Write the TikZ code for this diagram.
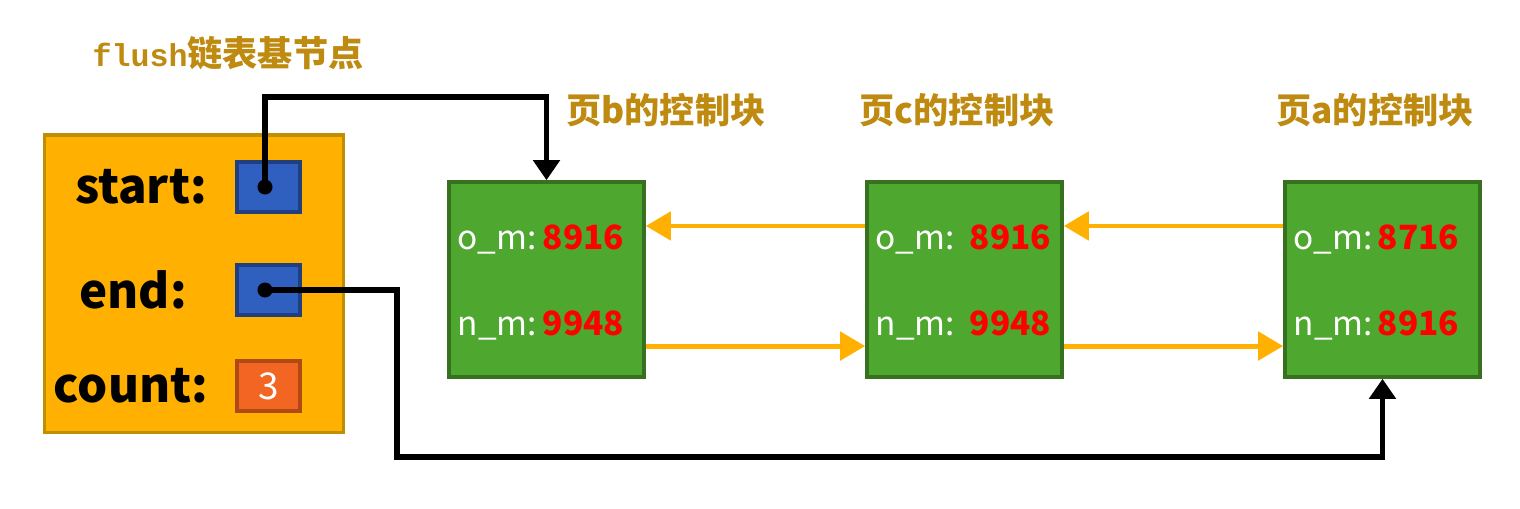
\documentclass[tikz,border=0pt]{standalone}
\usepackage{fontspec}
\usetikzlibrary{arrows.meta,positioning}
\newfontfamily\cjk{Noto Sans CJK SC}
\newfontfamily\monof{Liberation Mono}
\definecolor{porange}{HTML}{FFB000}
\definecolor{porangedark}{HTML}{BF8F00}
\definecolor{pblue}{HTML}{2F5FBF}
\definecolor{pbluedark}{HTML}{1F3F80}
\definecolor{pcount}{HTML}{F26522}
\definecolor{pcountdark}{HTML}{B04A14}
\definecolor{pgreen}{HTML}{4EA72E}
\definecolor{pgreendark}{HTML}{37701F}
\definecolor{pgold}{HTML}{BF8A10}
\definecolor{pred}{HTML}{FF0000}

\begin{document}
\begin{tikzpicture}[x=0.01cm, y=-0.01cm, every node/.style={font=\cjk},
    base/.style={draw=porangedark, fill=porange, line width=0.9pt,
      minimum width=2.98cm, minimum height=2.97cm},
    slot/.style={draw=pbluedark, fill=pblue, line width=0.9pt, inner sep=0pt,
      minimum width=0.63cm, minimum height=0.5cm},
    block/.style={draw=pgreendark, fill=pgreen, line width=1pt,
      minimum width=1.95cm, minimum height=1.95cm},
    key/.style={font=\cjk\bfseries\fontsize{13.5}{16}\selectfont},
    field/.style={anchor=base west, inner sep=0pt, text=white,
      font=\cjk\fontsize{9.5}{11}\selectfont},
    val/.style={anchor=base east, inner sep=0pt, text=pred,
      font=\cjk\bfseries\fontsize{9.5}{11}\selectfont},
    title/.style={text=pgold, font=\cjk\bfseries\fontsize{10}{12}\selectfont},
    ptr/.style={line width=1.7pt, -{Triangle[width=2.6mm,length=2mm]}},
    link/.style={porange, line width=1.4pt, -{Triangle[width=2.8mm,length=2.5mm]}}]
  \useasboundingbox (0,0) rectangle (1520,508);
  % base node
  \node[title] (flush) at (228,53) {{\monof\fontsize{9}{11}\selectfont flush}链表基节点};
  \node[base] (base) at (194,283.5) {};
  \node[key] (kstart) at (141,187) {start:};
  \node[key] (kend) at (133,290) {end:};
  \node[key] (kcount) at (131,386) {count:};
  \node[slot] (sstart) at (268.5,187) {};
  \node[slot] (send) at (268.5,290) {};
  \node[slot, draw=pcountdark, fill=pcount, text=white,
    font=\cjk\fontsize{10.5}{12}\selectfont] (scount) at (268.5,386) {3};
  \node[circle, fill=black, inner sep=0pt, minimum size=0.15cm] (sdot) at (265,187) {};
  \node[circle, fill=black, inner sep=0pt, minimum size=0.15cm] (edot) at (265,290) {};
  % control blocks
  \foreach \n/\cx/\tx/\lab/\om/\nm/\ve in {pb/546.5/666/b/8916/9948/625,
      pc/964.5/957/c/8916/9948/1052, pa/1382.5/1375/a/8716/8916/1460}{
    \node[block] (\n) at (\cx,279.5) {};
    \node[title] (\n-t) at (\tx,110) {页\lab 的控制块};
    \node[field] (\n-o) at (\cx-89.5,249) {o\_m:};
    \node[field] (\n-m) at (\cx-89.5,335) {n\_m:};
    \node[val] (\n-ov) at (\ve,249) {\om};
    \node[val] (\n-nv) at (\ve,335) {\nm};
  }
  % pointers
  \coordinate (top) at (546.5,97);
  \coordinate (bot) at (397,457);
  \draw[ptr] (sdot.center) |- (top) -- (pb.north);
  \draw[ptr] (edot.center) -| (bot) -| (pa.south);
  % list links
  \draw[link] ([yshift=0.535cm]pc.west) -- ([yshift=0.535cm]pb.east);
  \draw[link] ([yshift=0.535cm]pa.west) -- ([yshift=0.535cm]pc.east);
  \draw[link] ([yshift=-0.665cm]pb.east) -- ([yshift=-0.665cm]pc.west);
  \draw[link] ([yshift=-0.665cm]pc.east) -- ([yshift=-0.665cm]pa.west);
\end{tikzpicture}
\end{document}
